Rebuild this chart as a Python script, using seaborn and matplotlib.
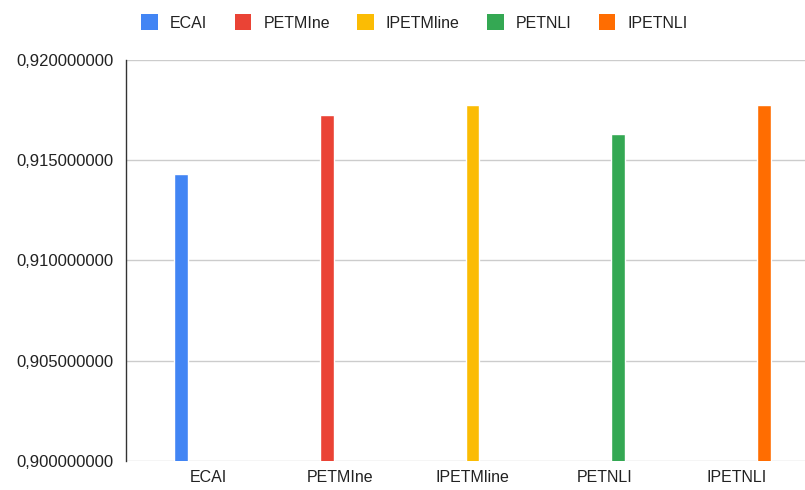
import matplotlib
matplotlib.use("Agg")
import matplotlib.pyplot as plt
import matplotlib.ticker as mticker
from matplotlib.patches import Patch
import pandas as pd
import seaborn as sns

# ── Data ──────────────────────────────────────────────────────────────────
methods = ["ECAI", "PETMIne", "IPETMline", "PETNLI", "IPETNLI"]
scores = [0.91429, 0.91724, 0.91774, 0.91632, 0.91774]
colors = ["#4285F4", "#EA4335", "#FBBC04", "#34A853", "#FF6D01"]
y_ticks = [0.900, 0.905, 0.910, 0.915, 0.920]

df = pd.DataFrame({"method": methods, "series": methods, "score": scores})

sns.set_theme(style="white")
plt.rcParams["font.family"] = ["Liberation Sans", "DejaVu Sans"]

fig = plt.figure(figsize=(8.05, 4.9), dpi=100)
ax = fig.add_axes([126 / 805, 1 - 460.7 / 490, (805 - 126) / 805, (460.7 - 60) / 490])

sns.barplot(data=df, x="method", y="score", hue="series", order=methods,
            hue_order=methods, palette=dict(zip(methods, colors)),
            width=0.53, dodge=True, saturation=1, legend=False, ax=ax, zorder=3)

ax.set_ylim(0.9, 0.92)
ax.set_xlim(-0.625, 4.519)
ax.set_yticks(y_ticks)
ax.yaxis.set_major_formatter(
    mticker.FuncFormatter(lambda v, _: f"{v:.9f}".replace(".", ",")))
ax.yaxis.grid(True, color="#cccccc", linewidth=1, zorder=0)
ax.set_axisbelow(True)
ax.set_xlabel("")
ax.set_ylabel("")

for side in ["top", "right", "bottom"]:
    ax.spines[side].set_visible(False)
ax.spines["left"].set_color("#333333")
ax.spines["left"].set_linewidth(1)

ax.tick_params(axis="both", length=0, labelsize=11.5, colors="#222222")
ax.tick_params(axis="y", labelsize=12, pad=9)
ax.tick_params(axis="x", pad=7)

handles = [Patch(facecolor=c, edgecolor="none", label=m) for m, c in zip(methods, colors)]
leg = fig.legend(handles=handles, loc="center", bbox_to_anchor=(414.5 / 805, 1 - 22.5 / 490),
                 ncol=5, frameon=False, fontsize=11.5, handlelength=1.05,
                 handleheight=1.1, handletextpad=0.75, columnspacing=1.7)
for t in leg.get_texts():
    t.set_color("#222222")

fig.savefig("out.png", dpi=100)
